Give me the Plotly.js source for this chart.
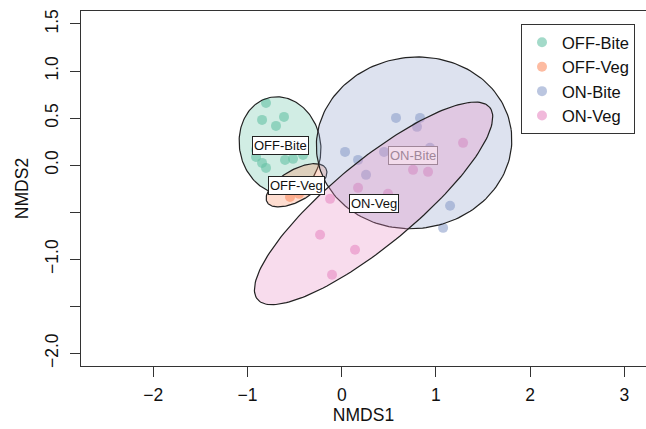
<!DOCTYPE html>
<html><head><meta charset="utf-8">
<script src="https://cdn.plot.ly/plotly-3.0.1.min.js"></script>
<style>html,body{margin:0;padding:0;background:#fff}#plot{width:646px;height:429px}</style>
</head><body><div id="plot"></div>
<script>
// ---- data ----
const groups = ['OFF-Bite', 'OFF-Veg', 'ON-Bite', 'ON-Veg'];
const colors = ['102,194,165', '252,141,98', '141,160,203', '231,138,195'];

const offBiteX = [-0.804, -0.846, -0.613, -0.698, -0.910, -0.910, -0.846, -0.804, -0.602, -0.517, -0.411, -0.443];
const offBiteY = [0.661, 0.481, 0.513, 0.417, 0.162, 0.088, 0.024, -0.029, 0.056, 0.067, 0.109, 0.205];
const offVegX = [-0.644, -0.549, -0.453, -0.358];
const offVegY = [-0.262, -0.337, -0.305, -0.220];
const onBiteX = [0.576, 0.035, 1.150, 1.076, 0.831, 0.799, 0.173, 0.258, 0.449, 0.937];
const onBiteY = [0.502, 0.141, -0.432, -0.666, 0.502, 0.407, 0.056, -0.103, 0.141, 0.184];
const onVegX = [1.288, 0.757, 0.916, 0.173, -0.124, -0.230, 0.141, -0.103, 0.491];
const onVegY = [0.237, -0.050, -0.071, -0.241, -0.358, -0.740, -0.899, -1.165, -0.305];

// ellipse parameters (centre, semi-axes, rotation in degrees)
const ellCenterX = [-0.655, -0.480, 0.768, 0.338];
const ellCenterY = [0.210, -0.214, 0.237, -0.406];
const ellSemiMajor = [0.52, 0.36, 1.04, 1.60];
const ellSemiMinor = [0.43, 0.165, 0.91, 0.446];
const ellAngleDeg = [102, 30, 8, 39.6];

// group label positions (group centroids)
const labelX = [-0.655, -0.480, 0.760, 0.338];
const labelY = [0.210, -0.214, 0.105, -0.406];

const xTickVals = [-2, -1, 0, 1, 2, 3];
const xTickText = ['\u22122', '\u22121', '0', '1', '2', '3'];
const yTickVals = [1.5, 1.0, 0.5, 0.0, -0.5, -1.0, -1.5, -2.0];
const yTickText = ['1.5', '1.0', '0.5', '0.0', '', '\u22121.0', '', '\u22122.0'];

// ---- build ----
const ptsX = [offBiteX, offVegX, onBiteX, onVegX];
const ptsY = [offBiteY, offVegY, onBiteY, onVegY];
const FONT = 'Liberation Sans, Arial, Helvetica, sans-serif';

const traces = [];
groups.forEach((g, i) => {
  traces.push({
    type: 'scatter', mode: 'markers', name: g,
    x: ptsX[i], y: ptsY[i],
    marker: {size: 10, color: 'rgba(' + colors[i] + ',0.6)', line: {width: 0}},
    hoverinfo: 'skip'
  });
});

function ellipsePath(i) {
  const xs = [], ys = [];
  const th = ellAngleDeg[i] * Math.PI / 180;
  const n = 180;
  for (let k = 0; k <= n; k++) {
    const t = 2 * Math.PI * k / n;
    const u = ellSemiMajor[i] * Math.cos(t), v = ellSemiMinor[i] * Math.sin(t);
    xs.push(ellCenterX[i] + u * Math.cos(th) - v * Math.sin(th));
    ys.push(ellCenterY[i] + u * Math.sin(th) + v * Math.cos(th));
  }
  return [xs, ys];
}
groups.forEach((g, i) => {
  const [xs, ys] = ellipsePath(i);
  traces.push({
    type: 'scatter', mode: 'lines', x: xs, y: ys, fill: 'toself',
    fillcolor: 'rgba(' + colors[i] + ',0.3)',
    line: {color: '#222', width: 1.2}, showlegend: false, hoverinfo: 'skip'
  });
});

const labelStyle = [
  {fc: '#111', bc: '#222', bg: '#ffffff'},
  {fc: '#111', bc: '#222', bg: '#ffffff'},
  {fc: '#a08699', bc: '#a08699', bg: '#f3dcec'},
  {fc: '#111', bc: '#222', bg: '#ffffff'}
];
const annotations = groups.map((g, i) => ({
  x: labelX[i], y: labelY[i], xref: 'x', yref: 'y', text: g, showarrow: false,
  font: {family: FONT, size: 13, color: labelStyle[i].fc},
  bgcolor: labelStyle[i].bg, bordercolor: labelStyle[i].bc, borderwidth: 1, borderpad: 1
}));

const axisCommon = {
  showgrid: false, zeroline: false, showline: true, linecolor: '#333', linewidth: 1,
  ticks: 'outside', ticklen: 10, tickcolor: '#333', tickwidth: 1,
  tickfont: {family: FONT, size: 17.5, color: '#111'}, tickmode: 'array'
};

const layout = {
  width: 646, height: 429,
  margin: {l: 81, r: 0, t: 11, b: 63, pad: 0},
  paper_bgcolor: '#fff', plot_bgcolor: '#fff',
  showlegend: true,
  legend: {
    x: (521 - 81) / 565, y: (366 - 24) / 355, xanchor: 'left', yanchor: 'top',
    bgcolor: '#fff', bordercolor: '#333', borderwidth: 1,
    font: {family: FONT, size: 16.5, color: '#111'}, tracegroupgap: 0
  },
  xaxis: Object.assign({}, axisCommon, {
    range: [-2.768, 3.23], tickvals: xTickVals, ticktext: xTickText, mirror: true,
    ticklabelstandoff: 3,
    title: {text: 'NMDS1', font: {family: FONT, size: 17.5, color: '#111'}, standoff: 3}
  }),
  yaxis: Object.assign({}, axisCommon, {
    range: [-2.134, 1.638], tickvals: yTickVals, ticktext: yTickText, tickangle: -90,
    ticklabelstandoff: 5,
    title: {text: 'NMDS2', font: {family: FONT, size: 17.5, color: '#111'}, standoff: 8}
  }),
  annotations: annotations
};

Plotly.newPlot('plot', traces, layout, {staticPlot: true, displayModeBar: false});
</script></body></html>
